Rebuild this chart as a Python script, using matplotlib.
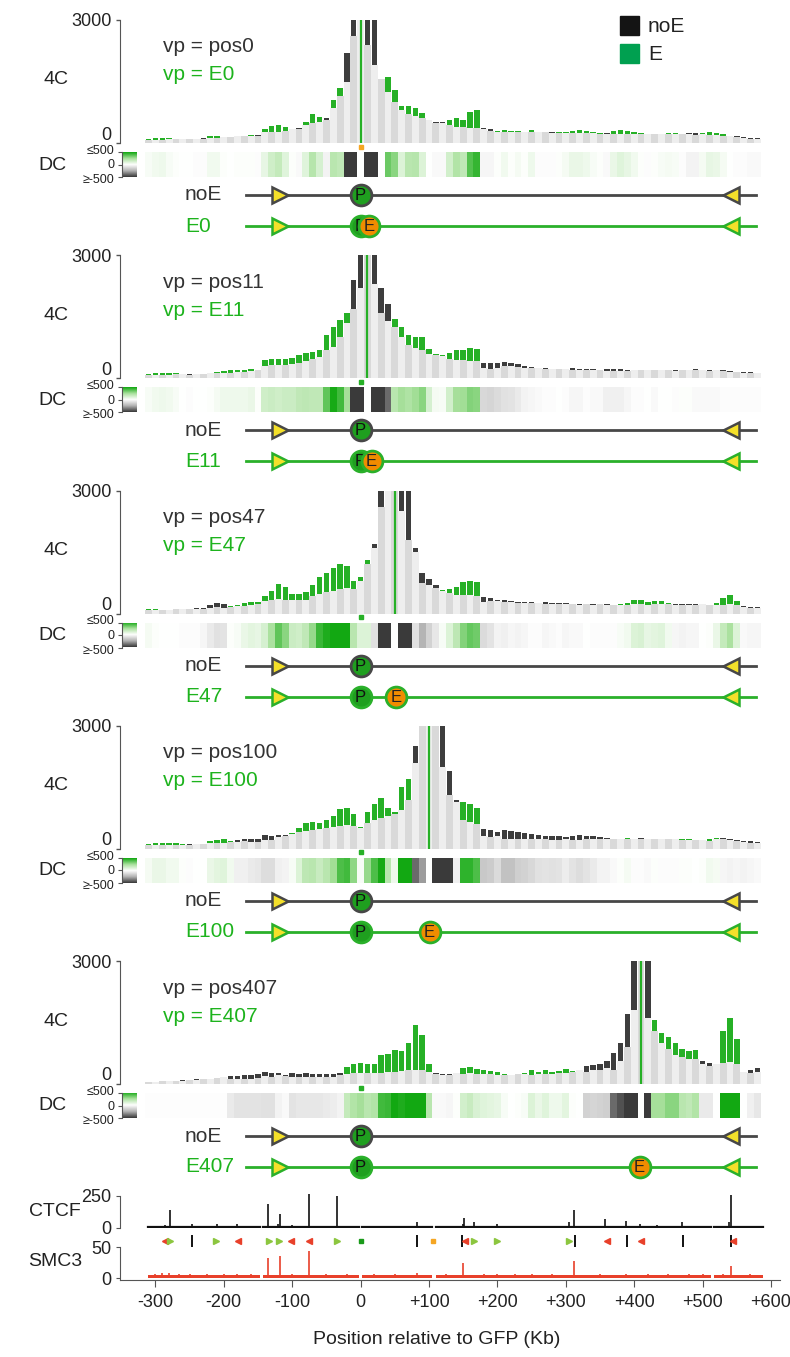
import numpy as np
import matplotlib
matplotlib.use('Agg')
import matplotlib.pyplot as plt
from matplotlib.colors import LinearSegmentedColormap
from matplotlib.patches import Rectangle
from matplotlib.transforms import ScaledTranslation

plt.rcParams['font.family'] = ['Liberation Sans', 'DejaVu Sans']

# ---------------------------------------------------------------- data
# 4C bins: 10 kb windows, centres from -310 to +580 kb
BIN_FIRST, BIN_LAST, BIN_SIZE = -310, 580, 10

NOE_NAMES = ['pos0', 'pos11', 'pos47', 'pos100', 'pos407']
E_NAMES = ['E0', 'E11', 'E47', 'E100', 'E407']
VIEWPOINT_KB = [0, 10, 50, 100, 410]
E_SITE_KB = [12, 16, 52, 101, 408]
P_SITE_KB = 0
CTCF_FWD_KB = -118
CTCF_REV_KB = 542
CONSTRUCT_START, CONSTRUCT_END = -167, 578

noE_0 = [70, 80, 80, 90, 90, 90, 100, 100, 110, 120,
         130, 140, 150, 160, 170, 180, 190, 260, 280, 270,
         290, 340, 360, 430, 490, 520, 600, 850, 1150, 2200,
         6000, 9000, 5500, 3300, 1550, 1250, 1000, 800, 700, 650,
         620, 560, 520, 500, 430, 400, 380, 370, 360, 360,
         330, 280, 270, 280, 270, 270, 260, 280, 270, 260,
         250, 240, 240, 250, 240, 240, 230, 240, 230, 220,
         230, 230, 230, 220, 210, 210, 220, 220, 230, 250,
         240, 210, 200, 190, 180, 170, 160, 140, 120, 110]
E_0 = [90, 120, 130, 110, 100, 90, 100, 90, 100, 160,
       170, 150, 150, 170, 180, 190, 180, 330, 420, 440,
       380, 350, 340, 520, 700, 640, 560, 1050, 1330, 1500,
       2600, 9000, 2400, 1900, 1550, 1600, 1300, 900, 900, 860,
       720, 560, 500, 480, 560, 620, 560, 760, 800, 330,
       300, 290, 310, 290, 300, 280, 310, 270, 260, 250,
       260, 270, 300, 310, 290, 260, 240, 220, 290, 310,
       300, 270, 240, 210, 220, 230, 250, 240, 220, 210,
       200, 240, 270, 250, 210, 170, 150, 130, 100, 90]

noE_11 = [90, 90, 90, 90, 100, 100, 100, 100, 110, 120,
          120, 130, 140, 150, 160, 170, 190, 300, 320, 330,
          330, 350, 380, 430, 470, 520, 680, 760, 1000, 1350,
          2400, 4500, 9000, 4000, 2200, 1800, 1250, 1000, 820, 740,
          700, 600, 560, 540, 480, 450, 440, 430, 420, 380,
          360, 380, 400, 380, 350, 300, 280, 260, 240, 230,
          220, 230, 240, 230, 220, 220, 210, 230, 230, 220,
          210, 200, 200, 200, 210, 200, 190, 190, 190, 200,
          220, 210, 200, 210, 190, 170, 160, 150, 150, 140]
E_11 = [110, 130, 140, 130, 120, 100, 90, 100, 110, 130,
        150, 180, 190, 200, 210, 230, 200, 440, 470, 470,
        480, 500, 560, 620, 650, 700, 1050, 1250, 1420, 1600,
        1700, 2200, 9000, 2300, 1600, 1400, 1450, 1250, 1050, 1000,
        1000, 720, 590, 560, 610, 700, 700, 740, 720, 250,
        220, 260, 300, 290, 280, 260, 250, 240, 230, 220,
        220, 220, 210, 200, 210, 200, 190, 180, 180, 170,
        180, 190, 190, 200, 190, 200, 190, 180, 200, 210,
        200, 190, 180, 190, 180, 160, 150, 140, 140, 130]

noE_47 = [80, 90, 90, 90, 100, 110, 120, 130, 140, 200,
          250, 230, 170, 180, 190, 200, 220, 300, 320, 350,
          340, 330, 330, 340, 420, 470, 520, 560, 600, 620,
          600, 800, 1200, 1700, 3600, 6000, 9000, 6000, 3200, 1600,
          1000, 850, 700, 560, 500, 460, 450, 440, 420, 400,
          390, 340, 330, 300, 290, 280, 270, 260, 270, 260,
          250, 260, 240, 230, 220, 220, 230, 220, 210, 210,
          210, 220, 220, 210, 220, 220, 220, 230, 240, 240,
          230, 220, 200, 200, 210, 220, 200, 180, 170, 160]
E_47 = [110, 100, 90, 90, 100, 100, 110, 120, 110, 130,
        150, 140, 180, 200, 250, 280, 290, 420, 560, 720,
        640, 480, 470, 520, 700, 900, 1000, 1100, 1200, 1150,
        800, 900, 1300, 1600, 2600, 3200, 9000, 2500, 1800, 1500,
        750, 700, 620, 580, 600, 650, 760, 800, 760, 280,
        300, 300, 280, 270, 250, 250, 260, 250, 240, 240,
        240, 230, 220, 210, 220, 210, 220, 210, 200, 230,
        250, 320, 330, 280, 300, 310, 260, 200, 200, 210,
        200, 220, 210, 260, 380, 460, 300, 160, 140, 130]

noE_100 = [80, 80, 90, 90, 100, 100, 110, 110, 120, 130,
           140, 150, 160, 220, 230, 240, 240, 330, 320, 330,
           340, 360, 400, 430, 450, 480, 500, 540, 560, 580,
           560, 500, 620, 700, 760, 800, 850, 950, 1200, 2500,
           3500, 9000, 6000, 4000, 1900, 1200, 700, 650, 600, 480,
           450, 420, 450, 440, 400, 380, 360, 340, 320, 320,
           300, 290, 310, 330, 320, 300, 280, 270, 250, 240,
           230, 240, 260, 250, 230, 240, 250, 240, 220, 220,
           220, 210, 200, 230, 260, 250, 220, 200, 180, 160]
E_100 = [110, 140, 150, 130, 140, 110, 100, 110, 120, 190,
         220, 240, 200, 170, 180, 170, 160, 220, 210, 280,
         300, 380, 500, 620, 650, 640, 700, 800, 960, 1000,
         850, 520, 900, 1100, 1250, 1000, 900, 1500, 1700, 2100,
         3200, 9000, 3200, 2000, 1300, 1150, 1150, 1100, 1000, 300,
         280, 300, 250, 240, 240, 230, 230, 240, 230, 220,
         210, 230, 220, 220, 230, 230, 240, 230, 230, 250,
         260, 230, 250, 230, 240, 230, 240, 230, 230, 230,
         220, 220, 240, 260, 230, 210, 190, 160, 150, 140]

noE_407 = [60, 60, 70, 70, 80, 90, 100, 110, 120, 130,
           150, 170, 190, 200, 210, 220, 240, 300, 280, 260,
           220, 260, 250, 260, 250, 240, 240, 240, 260, 250,
           260, 270, 280, 280, 280, 290, 300, 320, 330, 340,
           330, 300, 260, 250, 250, 260, 250, 260, 250, 240,
           240, 230, 220, 230, 240, 240, 230, 240, 240, 250,
           260, 280, 300, 330, 450, 470, 500, 560, 750, 1000,
           1700, 3500, 9000, 4500, 1300, 1000, 850, 700, 650, 620,
           600, 550, 520, 500, 520, 530, 500, 300, 330, 380]
E_407 = [55, 55, 65, 65, 75, 85, 95, 105, 115, 125,
         145, 165, 120, 110, 120, 130, 150, 200, 180, 220,
         200, 170, 170, 180, 170, 160, 170, 180, 220, 420,
         480, 520, 480, 500, 700, 720, 820, 800, 1000, 1450,
         1200, 500, 240, 230, 220, 270, 380, 420, 360, 330,
         320, 300, 240, 230, 250, 260, 330, 300, 330, 300,
         310, 360, 310, 330, 300, 330, 350, 400, 350, 550,
         900, 1800, 9000, 1600, 1550, 1250, 1150, 1000, 850, 800,
         820, 480, 450, 500, 1300, 1600, 1100, 300, 280, 300]

NOE_PROFILES = [noE_0, noE_11, noE_47, noE_100, noE_407]
E_PROFILES = [E_0, E_11, E_47, E_100, E_407]

# ChIP tracks (kb position, signal)
CTCF_KB = [-286, -279, -247, -210, -180, -135, -121, -118, -101, -76, -35, -14,
           83, 149, 151, 166, 200, 237, 263, 305, 312, 358, 388, 408, 433,
           452, 470, 538, 541]
CTCF_SIGNAL = [25, 144, 35, 30, 30, 187, 30, 106, 25, 262, 252, 15,
               43, 30, 81, 43, 30, 15, 15, 48, 144, 68, 53, 30, 20,
               15, 43, 45, 258]
SMC3_KB = [-300, -290, -280, -265, -250, -225, -200, -180, -160, -135, -118,
           -100, -76, -50, -20, 20, 50, 83, 125, 149, 180, 200, 225, 250,
           280, 312, 350, 388, 420, 450, 480, 500, 530, 541, 570]
SMC3_SIGNAL = [7, 8, 9, 7, 6, 7, 6, 7, 6, 32, 35,
               7, 43, 6, 7, 6, 6, 8, 7, 24, 6, 7, 6, 7,
               6, 28, 6, 7, 6, 6, 7, 6, 7, 19, 6]
TRACK_SEGMENTS = [(-311, -147), (-142, -3), (2, 104), (110, 513), (517, 588)]
CTCF_BASE, SMC3_BASE = 4, 5

# CTCF motifs and other features under the CTCF track
MOTIF_KB = [-286, -278, -247, -211, -179, -134, -119, -102, -75, -34, 0, 83,
            106, 148, 152, 166, 200, 305, 313, 360, 389, 410, 472, 542, 545]
MOTIF_KIND = ['rev', 'fwd', 'bar', 'fwd', 'rev', 'fwd', 'fwd', 'rev', 'rev',
              'fwd', 'gfp', 'bar', 'orange', 'bar', 'rev', 'fwd', 'fwd', 'fwd',
              'bar', 'rev', 'bar', 'rev', 'bar', 'bar', 'rev']

XTICKS = [-300, -200, -100, 0, 100, 200, 300, 400, 500, 600]
XTICK_LABELS = ['-300', '-200', '-100', '0', '+100', '+200', '+300', '+400',
                '+500', '+600']
DC_LABELS = ['≤500', '0', '≥-500']

# ---------------------------------------------------------------- style
W, H = 790, 1357
AX_L, AX_R = 120, 780
PX_ZERO, PX_PER_KB = 360.6, 0.684
XLIM = ((AX_L - PX_ZERO) / PX_PER_KB, (AX_R - PX_ZERO) / PX_PER_KB)
YMAX = 3000

DARK = '#3d3d3d'
GREEN = '#26b026'
TXT_DARK = '#333333'
TXT_GREEN = '#1db31d'
AXIS_COL = '#555555'
P_FILL = '#1f9f1f'
E_FILL = '#f08c00'
YELLOW = '#f4e02a'
LINE_NOE = '#474747'
LINE_E = '#2ab02a'
RED = '#e8402a'
MOTIF_GREEN = '#8cc63f'

dc_cmap = LinearSegmentedColormap.from_list(
    'dc', ['#3a3a3a', '#b4b4b4', '#ffffff', '#a8e09c', '#12a812'])

fig = plt.figure(figsize=(W / 100, H / 100), dpi=100)


def add_ax(x0, y0, x1, y1):
    return fig.add_axes([x0 / W, 1 - y1 / H, (x1 - x0) / W, (y1 - y0) / H])


def ftext(x, y, s, **kw):
    fig.text(x / W, 1 - y / H, s, **kw)


def clean(ax):
    ax.set_xlim(*XLIM)
    for sp in ax.spines.values():
        sp.set_visible(False)
    ax.set_xticks([])
    ax.set_yticks([])


centres = np.arange(BIN_FIRST, BIN_LAST + BIN_SIZE, BIN_SIZE)
edges = np.append(centres - BIN_SIZE / 2, centres[-1] + BIN_SIZE / 2)
shade = ['#d9d9d9' if i % 2 == 0 else '#eeeeee' for i in range(len(centres))]


def construct_row(y, with_e, k):
    ax = add_ax(AX_L, y - 13, AX_R, y + 13)
    clean(ax)
    ax.set_ylim(-1, 1)
    col = LINE_E if with_e else LINE_NOE
    ax.plot([CONSTRUCT_START, CONSTRUCT_END], [0, 0], color=col, lw=2, zorder=1)
    ax.plot(CTCF_FWD_KB, 0, marker='>', ms=12, mfc=YELLOW, mec=col, mew=1.8, zorder=3)
    ax.plot(CTCF_REV_KB, 0, marker='<', ms=12, mfc=YELLOW, mec=col, mew=1.8, zorder=3)
    ax.plot(P_SITE_KB, 0, marker='o', ms=15, mfc=P_FILL, mec=col, mew=2, zorder=4)
    ax.text(P_SITE_KB, -0.05, 'P', ha='center', va='center', fontsize=12,
            color='#111111', zorder=5)
    if with_e:
        ax.plot(E_SITE_KB[k], 0, marker='o', ms=15, mfc=E_FILL, mec=LINE_E,
                mew=2, zorder=6)
        ax.text(E_SITE_KB[k], -0.05, 'E', ha='center', va='center', fontsize=12,
                color='#222222', zorder=7)
    label = E_NAMES[k] if with_e else 'noE'
    ftext(185, y, label, ha='left', va='center', fontsize=15,
          color=TXT_GREEN if with_e else TXT_DARK)


for k in range(5):
    top = 20 + 235.25 * k
    noe = np.array(NOE_PROFILES[k], float)
    e = np.array(E_PROFILES[k], float)
    lo = np.minimum(np.minimum(noe, e), YMAX)
    hi = np.minimum(np.maximum(noe, e), YMAX)

    # 4C profile
    ax = add_ax(AX_L, top, AX_R, top + 123)
    ax.set_xlim(*XLIM)
    ax.set_ylim(0, YMAX)
    ax.bar(centres, lo, width=BIN_SIZE, color=shade, linewidth=0)
    ax.bar(centres, hi - lo, bottom=lo, width=BIN_SIZE * 0.8,
           color=np.where(e > noe, GREEN, DARK), linewidth=0)
    ax.plot([VIEWPOINT_KB[k]] * 2, [0, YMAX], color=GREEN, lw=1.6)
    ax.plot(0, -90, marker='s', ms=2.5, clip_on=False,
            color='#f5a623' if k == 0 else GREEN)
    for side in ['top', 'right', 'bottom']:
        ax.spines[side].set_visible(False)
    ax.spines['left'].set_color(AXIS_COL)
    ax.spines['left'].set_bounds(0, YMAX)
    ax.set_xticks([])
    ax.set_yticks([0, YMAX])
    ax.set_yticklabels(['0', '3000'])
    ax.tick_params(axis='y', length=3, width=1, color=AXIS_COL, labelsize=13,
                   pad=3, labelcolor='#222222')
    zero_lab = ax.get_yticklabels()[0]
    zero_lab.set_transform(zero_lab.get_transform() +
                           ScaledTranslation(0, 10 / 100, fig.dpi_scale_trans))
    ax.patch.set_alpha(0)

    ftext(56, top + 60, '4C', ha='center', va='center', fontsize=14, color='#222222')
    ftext(163, top + 27, 'vp = ' + NOE_NAMES[k], ha='left', va='center',
          fontsize=15, color=TXT_DARK)
    ftext(163, top + 55, 'vp = ' + E_NAMES[k], ha='left', va='center',
          fontsize=15, color=TXT_GREEN)

    # differential contacts
    dc = np.clip(e - noe, -500, 500)
    axd = add_ax(AX_L, top + 132, AX_R, top + 157)
    clean(axd)
    axd.pcolormesh(edges, [0, 1], dc[None, :], cmap=dc_cmap, vmin=-500, vmax=500)
    axd.set_ylim(0, 1)

    axc = add_ax(122, top + 132, 136, top + 157)
    axc.imshow(np.linspace(500, -500, 60)[:, None], cmap=dc_cmap, vmin=-500,
               vmax=500, aspect='auto', extent=[0, 1, -500, 500])
    for side in ['top', 'right', 'bottom']:
        axc.spines[side].set_visible(False)
    axc.spines['left'].set_color(AXIS_COL)
    axc.set_xticks([])
    axc.set_yticks([500, 0, -500])
    axc.set_yticklabels([])
    axc.tick_params(axis='y', length=3, color=AXIS_COL)
    for lab, dy in zip(DC_LABELS, [131, 145.5, 160]):
        ftext(114, top + dy, lab, ha='right', va='center', fontsize=9,
              color='#222222')
    ftext(52, top + 145, 'DC', ha='center', va='center', fontsize=14, color='#222222')

    construct_row(top + 175, False, k)
    construct_row(top + 206, True, k)

# legend
for i, (name, col) in enumerate([('noE', '#141414'), ('E', '#00a050')]):
    y0 = 16 + 28 * i
    fig.patches.append(Rectangle((620 / W, 1 - (y0 + 19) / H), 19 / W, 19 / H,
                                 transform=fig.transFigure, color=col))
    ftext(648, y0 + 10, name, ha='left', va='center', fontsize=15, color='#222222')

# CTCF track
axt = add_ax(AX_L, 1196, AX_R, 1228)
axt.set_xlim(*XLIM)
axt.set_ylim(0, 250)
for a, b in TRACK_SEGMENTS:
    axt.plot([a, b], [CTCF_BASE, CTCF_BASE], color='#111111', lw=1.6)
axt.vlines(CTCF_KB, 0, CTCF_SIGNAL, color='#111111', lw=1.2, clip_on=False)
for side in ['top', 'right', 'bottom']:
    axt.spines[side].set_visible(False)
axt.spines['left'].set_color(AXIS_COL)
axt.set_xticks([])
axt.set_yticks([0, 250])
axt.tick_params(axis='y', length=3, color=AXIS_COL, labelsize=13, pad=3,
                labelcolor='#222222')
axt.patch.set_alpha(0)
ftext(55, 1212, 'CTCF', ha='center', va='center', fontsize=14, color='#222222')

# motif row
axm = add_ax(AX_L, 1234, AX_R, 1248)
clean(axm)
axm.set_ylim(-1, 1)
motif_style = {
    'fwd': dict(marker='>', ms=5, color=MOTIF_GREEN),
    'rev': dict(marker='<', ms=5, color=RED),
    'bar': dict(marker='|', ms=8, mew=1.4, color='#111111'),
    'gfp': dict(marker='s', ms=3, color='#1a9a1a'),
    'orange': dict(marker='s', ms=3, color='#f5a623'),
}
for kb, kind in zip(MOTIF_KB, MOTIF_KIND):
    axm.plot(kb, 0, linestyle='none', **motif_style[kind])

# SMC3 track + x axis
axs = add_ax(AX_L, 1247, AX_R, 1280)
axs.set_xlim(*XLIM)
axs.set_ylim(-3, 50)
for a, b in TRACK_SEGMENTS:
    axs.fill_between([a, b], 0, SMC3_BASE, color=RED, lw=0)
axs.vlines(SMC3_KB, 0, SMC3_SIGNAL, color=RED, lw=1.2)
for side in ['top', 'right']:
    axs.spines[side].set_visible(False)
axs.spines['left'].set_color(AXIS_COL)
axs.spines['left'].set_bounds(-3, 50)
axs.spines['bottom'].set_color(AXIS_COL)
axs.set_yticks([0, 50])
axs.set_xticks(XTICKS)
axs.set_xticklabels(XTICK_LABELS)
axs.tick_params(axis='y', length=3, color=AXIS_COL, labelsize=13, pad=3,
                labelcolor='#222222')
axs.tick_params(axis='x', length=5, color=AXIS_COL, labelsize=13, pad=5,
                labelcolor='#222222')
axs.patch.set_alpha(0)
ftext(55, 1262, 'SMC3', ha='center', va='center', fontsize=14, color='#222222')
ftext(437, 1340, 'Position relative to GFP (Kb)', ha='center', va='center',
      fontsize=14, color='#222222')

fig.savefig('out.png', dpi=100)
